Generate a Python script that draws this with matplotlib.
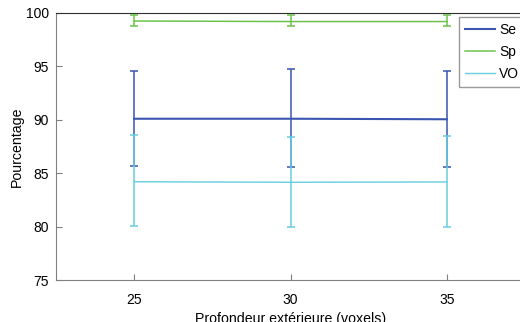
import matplotlib
matplotlib.use('Agg')
import matplotlib.pyplot as plt

plt.rcParams['font.family'] = ['Liberation Sans', 'DejaVu Sans']

# Data
depth = [25, 30, 35]
se_mean = [90.1, 90.1, 90.05]
se_low = [85.65, 85.6, 85.6]
se_high = [94.6, 94.8, 94.6]
sp_mean = [99.25, 99.2, 99.2]
sp_low = [98.75, 98.75, 98.75]
sp_high = [99.8, 99.8, 99.8]
vo_mean = [84.2, 84.15, 84.18]
vo_low = [80.05, 79.95, 79.95]
vo_high = [88.55, 88.35, 88.5]

series = [
    ('Se', se_mean, se_low, se_high, '#3a55b0', 1.5),
    ('Sp', sp_mean, sp_low, sp_high, '#6cc24a', 1.1),
    ('VO', vo_mean, vo_low, vo_high, '#66cee0', 1.0),
]

fig = plt.figure(figsize=(5.2, 3.22), dpi=100)
# axes spill over the right edge like the cropped original
ax = fig.add_axes([56 / 520, 42 / 322, 469 / 520, 267 / 322])

handles = []
for name, m, lo, hi, col, lw in series:
    err = [[a - b for a, b in zip(m, lo)], [b - a for a, b in zip(m, hi)]]
    h = ax.errorbar(depth, m, yerr=err, color=col, lw=lw, elinewidth=1.1,
                    capsize=3, capthick=1.1, label=name)
    handles.append(h)

ax.set_xlim(22.5, 37.5)
ax.set_ylim(75, 100)
ax.set_xticks([25, 30, 35])
ax.set_yticks([75, 80, 85, 90, 95, 100])
ax.tick_params(direction='in', length=4, labelsize=10, color='#808080')
ax.tick_params(axis='x', pad=9)
ax.tick_params(axis='y', pad=5)
for s in ['left', 'bottom']:
    ax.spines[s].set_color('#808080')
ax.spines['top'].set_color('#303030')
ax.spines['right'].set_visible(False)

# the original image is cropped, so the x label is cut at the bottom edge
ax.set_ylabel('Pourcentage', fontsize=10.2, labelpad=1.5)
ax.set_xlabel('Profondeur extérieure (voxels)', fontsize=10.2, labelpad=4)

leg = fig.legend(handles=[h[0] for h in handles], labels=[s[0] for s in series],
                 loc='upper left', bbox_to_anchor=(459 / 520, 1 - 17 / 322),
                 fontsize=10, fancybox=False, borderaxespad=0, handlelength=2.2,
                 labelspacing=0.6, handletextpad=0.3, borderpad=0.4)
leg.get_frame().set_edgecolor('#808080')
leg.get_frame().set_linewidth(1.0)

fig.savefig('out.png', dpi=100)
